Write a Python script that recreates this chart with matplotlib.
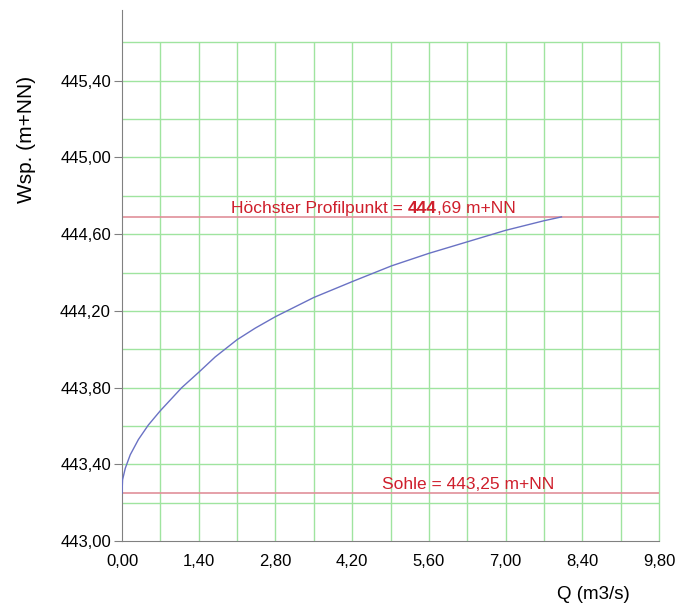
import numpy as np
import matplotlib.pyplot as plt
from matplotlib.transforms import offset_copy

plt.rcParams['font.family'] = ['Liberation Sans', 'DejaVu Sans']

# Abflusskurve
Q = [0.0, 0.01, 0.06, 0.15, 0.30, 0.48, 0.70, 1.09, 1.40, 1.70, 2.10, 2.43, 2.80,
     3.50, 4.22, 4.92, 5.60, 6.30, 7.00, 7.70, 8.02]
Wsp = [443.25, 443.32, 443.38, 443.45, 443.53, 443.605, 443.68, 443.80, 443.88, 443.96,
       444.05, 444.11, 444.17, 444.27, 444.355, 444.435, 444.50, 444.56, 444.62, 444.67, 444.69]

sohle = 443.25
hp = 444.69

x_ticks = [0.0, 1.4, 2.8, 4.2, 5.6, 7.0, 8.4, 9.8]
y_ticks = [443.0, 443.4, 443.8, 444.2, 444.6, 445.0, 445.4]
x_grid = np.arange(0.7, 9.81, 0.7)
y_grid = np.arange(443.2, 445.61, 0.2)


def de(v):
    return f"{v:.2f}".replace(".", ",")


fig = plt.figure(figsize=(6.82, 6.08), dpi=100)
ax = fig.add_axes([0.1789, 0.110, 0.7874, 0.874])

grid_c = "#9fe49f"
ax.vlines(x_grid, 443.0, 445.6, color=grid_c, lw=1, zorder=1, clip_on=False)
ax.hlines(y_grid, 0, 9.8, color=grid_c, lw=1, zorder=1, clip_on=False)

ax.hlines([hp, sohle], 0, 9.8, color="#e0909a", lw=1.2, zorder=2, clip_on=False)
ax.plot(Q, Wsp, color="#6a72c4", lw=1.0, zorder=3)

red = "#cf1f2c"
fs = 12.5
fig.canvas.draw()
r = fig.canvas.get_renderer()
# label with bold height value
t1 = ax.text(1.99, hp + 0.021, "Höchster Profilpunkt = ", color=red, fontsize=fs,
             va="baseline", ha="left")
w1 = t1.get_window_extent(r).width
t2 = ax.text(1.99, hp + 0.021, "444", color=red, fontsize=fs, fontweight="bold",
             va="baseline", ha="left",
             transform=offset_copy(ax.transData, fig=fig, x=w1, y=0, units="dots"))
w2 = t2.get_window_extent(r).width
ax.text(1.99, hp + 0.021, ",69 m+NN", color=red, fontsize=fs, va="baseline", ha="left",
        transform=offset_copy(ax.transData, fig=fig, x=w1 + w2, y=0, units="dots"))

ax.text(4.74, sohle + 0.021, "Sohle = 443,25 m+NN", color=red, fontsize=fs,
        va="baseline", ha="left")

ax.set_xlim(0, 9.8)
ax.set_ylim(443.0, 445.77)
ax.set_xticks(x_ticks)
ax.set_xticklabels([de(v) for v in x_ticks])
ax.set_yticks(y_ticks)
ax.set_yticklabels([de(v) for v in y_ticks])
ax.tick_params(axis="both", labelsize=12, color="#808080", length=6, pad=2)
ax.tick_params(axis="x", length=0, pad=9)

for s in ["top", "right"]:
    ax.spines[s].set_visible(False)
ax.spines["left"].set_color("#808080")
ax.spines["bottom"].set_color("#808080")

ax.set_ylabel("Wsp. (m+NN)", fontsize=15)
ax.yaxis.set_label_coords(-0.16, 0.755)
fig.text(0.924, 0.023, "Q (m3/s)", fontsize=13.5, ha="right", va="center")

fig.savefig("out.png", dpi=100)
